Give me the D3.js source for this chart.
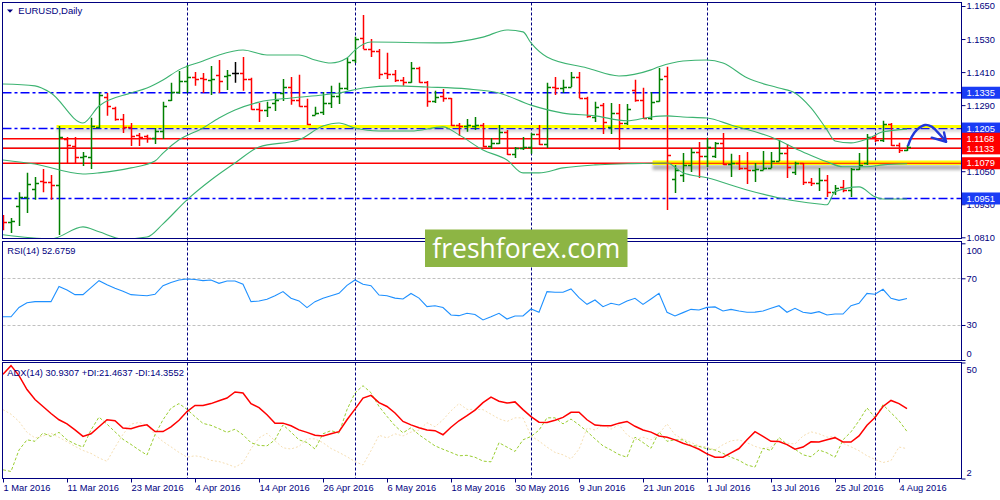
<!DOCTYPE html>
<html>
<head>
<meta charset="utf-8">
<script src="https://cdn.jsdelivr.net/npm/d3@7/dist/d3.min.js"></script>
<style>
  html, body { margin: 0; padding: 0; background: #fff; overflow: hidden; }
  svg { display: block; }
</style>
</head>
<body>
<svg id="chart" width="1000" height="500"></svg>
<script>
// EURUSD daily, 1 Mar 2016 .. 5 Aug 2016 (one entry per trading day)
const opens = [
  1.0876, 1.0865, 1.0924, 1.0956, 1.0985, 1.1015, 1.1011, 1.1000, 1.1167, 1.1142,
  1.1102, 1.1102, 1.1211, 1.1320, 1.1280, 1.1240, 1.1211, 1.1182, 1.1178, 1.1171,
  1.1196, 1.1309, 1.1338, 1.1378, 1.1392, 1.1389, 1.1382, 1.1400, 1.1396, 1.1407,
  1.1407, 1.1385, 1.1276, 1.1273, 1.1298, 1.1334, 1.1356, 1.1309, 1.1287, 1.1254,
  1.1265, 1.1298, 1.1324, 1.1353, 1.1454, 1.1534, 1.1494, 1.1487, 1.1407, 1.1403,
  1.1382, 1.1374, 1.1425, 1.1374, 1.1305, 1.1324, 1.1316, 1.1218, 1.1214, 1.1214,
  1.1218, 1.1142, 1.1153, 1.1193, 1.1113, 1.1134, 1.1138, 1.1185, 1.1149, 1.1356,
  1.1353, 1.1356, 1.1392, 1.1316, 1.1247, 1.1291, 1.1211, 1.1262, 1.1225, 1.1345,
  1.1309, 1.1244, 1.1305, 1.1396, 1.1022, 1.1036, 1.1073, 1.1120, 1.1105, 1.1105,
  1.1153, 1.1076, 1.1080, 1.1062, 1.1054, 1.1054, 1.1062, 1.1087, 1.1116, 1.1047,
  1.1080, 1.1011, 1.1007, 1.1018, 1.0974, 1.0993, 1.0982, 1.1058, 1.1080, 1.1174,
  1.1163, 1.1222, 1.1145, 1.1127
];
const highs = [
  1.0891, 1.0880, 1.0974, 1.1044, 1.1029, 1.1058, 1.1036, 1.1214, 1.1174, 1.1174,
  1.1120, 1.1244, 1.1338, 1.1334, 1.1284, 1.1258, 1.1225, 1.1189, 1.1182, 1.1207,
  1.1302, 1.1371, 1.1414, 1.1436, 1.1410, 1.1407, 1.1432, 1.1454, 1.1418, 1.1447,
  1.1465, 1.1389, 1.1298, 1.1302, 1.1334, 1.1385, 1.1392, 1.1400, 1.1313, 1.1284,
  1.1338, 1.1360, 1.1371, 1.1461, 1.1538, 1.1617, 1.1530, 1.1494, 1.1480, 1.1418,
  1.1392, 1.1447, 1.1429, 1.1378, 1.1342, 1.1349, 1.1316, 1.1225, 1.1240, 1.1247,
  1.1225, 1.1171, 1.1218, 1.1200, 1.1138, 1.1174, 1.1189, 1.1218, 1.1371, 1.1392,
  1.1382, 1.1410, 1.1410, 1.1320, 1.1302, 1.1298, 1.1298, 1.1294, 1.1294, 1.1382,
  1.1353, 1.1338, 1.1425, 1.1429, 1.1073, 1.1116, 1.1134, 1.1156, 1.1171, 1.1156,
  1.1189, 1.1113, 1.1109, 1.1120, 1.1080, 1.1123, 1.1120, 1.1163, 1.1149, 1.1084,
  1.1080, 1.1025, 1.1062, 1.1036, 1.1000, 1.1018, 1.1062, 1.1116, 1.1185, 1.1182,
  1.1233, 1.1225, 1.1153, 1.1145
];
const lows = [
  1.0836, 1.0826, 1.0851, 1.0898, 1.0946, 1.0974, 1.0946, 1.0818, 1.1080, 1.1080,
  1.1069, 1.1058, 1.1207, 1.1251, 1.1233, 1.1189, 1.1142, 1.1142, 1.1153, 1.1149,
  1.1167, 1.1305, 1.1331, 1.1334, 1.1360, 1.1334, 1.1327, 1.1334, 1.1345, 1.1371,
  1.1342, 1.1273, 1.1229, 1.1247, 1.1269, 1.1305, 1.1291, 1.1284, 1.1218, 1.1254,
  1.1254, 1.1280, 1.1294, 1.1345, 1.1443, 1.1494, 1.1465, 1.1385, 1.1385, 1.1374,
  1.1360, 1.1371, 1.1371, 1.1284, 1.1298, 1.1302, 1.1214, 1.1178, 1.1193, 1.1200,
  1.1138, 1.1131, 1.1149, 1.1109, 1.1098, 1.1127, 1.1113, 1.1145, 1.1134, 1.1327,
  1.1334, 1.1356, 1.1316, 1.1244, 1.1229, 1.1185, 1.1185, 1.1127, 1.1218, 1.1302,
  1.1240, 1.1236, 1.1302, 1.0909, 1.0971, 1.1011, 1.1047, 1.1025, 1.1065, 1.1098,
  1.1073, 1.1029, 1.1054, 1.1004, 1.1011, 1.1054, 1.1062, 1.1087, 1.1025, 1.1036,
  1.1000, 1.0996, 1.0978, 1.0956, 1.0964, 1.0974, 1.0956, 1.1054, 1.1073, 1.1156,
  1.1156, 1.1142, 1.1116, 1.1123
];
const closes = [
  1.0865, 1.0869, 1.0956, 1.1004, 1.1007, 1.1011, 1.1000, 1.1174, 1.1145, 1.1102,
  1.1105, 1.1214, 1.1327, 1.1287, 1.1240, 1.1211, 1.1178, 1.1174, 1.1171, 1.1196,
  1.1287, 1.1338, 1.1378, 1.1392, 1.1385, 1.1385, 1.1385, 1.1378, 1.1400, 1.1407,
  1.1385, 1.1276, 1.1273, 1.1284, 1.1309, 1.1356, 1.1309, 1.1287, 1.1222, 1.1262,
  1.1298, 1.1324, 1.1353, 1.1447, 1.1530, 1.1494, 1.1487, 1.1403, 1.1403, 1.1382,
  1.1374, 1.1425, 1.1374, 1.1305, 1.1320, 1.1316, 1.1218, 1.1214, 1.1218, 1.1218,
  1.1142, 1.1153, 1.1193, 1.1113, 1.1134, 1.1138, 1.1185, 1.1149, 1.1356, 1.1353,
  1.1356, 1.1392, 1.1316, 1.1251, 1.1284, 1.1229, 1.1262, 1.1225, 1.1276, 1.1309,
  1.1244, 1.1302, 1.1385, 1.1109, 1.1054, 1.1073, 1.1120, 1.1105, 1.1138, 1.1153,
  1.1076, 1.1080, 1.1062, 1.1054, 1.1058, 1.1062, 1.1087, 1.1116, 1.1065, 1.1080,
  1.1011, 1.1007, 1.1018, 1.0974, 1.0989, 1.0982, 1.1058, 1.1073, 1.1174, 1.1163,
  1.1222, 1.1145, 1.1127, 1.1139
];

// Bollinger bands, read at [bar, price]
const bbUpper = [
  [0,1.1367],[4,1.1360],[6,1.1334],[10,1.1225],[12,1.1287],[16,1.1334],[18,1.1352],
  [20,1.1381],[22,1.1418],[25,1.1450],[27,1.1472],[30,1.1490],[33,1.1472],[37,1.1472],
  [39,1.1454],[41,1.1443],[43,1.1461],[44,1.1490],[46,1.1519],[55,1.1516],[60,1.1537],
  [63,1.1563],[65,1.1556],[66,1.1516],[68,1.1465],[73,1.1425],[77,1.1396],[81,1.1418],
  [82,1.1429],[85,1.1450],[88,1.1454],[90,1.1443],[93,1.1389],[97,1.1352],[99,1.1334],
  [101,1.1280],[103,1.1200],[104,1.1160],[106,1.1153],[108,1.1167],[110,1.1193],[113,1.1203]
];
const bbMiddle = [
  [0,1.1091],[4,1.1076],[10,1.1040],[12,1.1044],[16,1.1062],[19,1.1087],[20,1.1116],
  [22,1.1164],[25,1.1207],[27,1.1243],[29,1.1272],[32,1.1301],[36,1.1316],[40,1.1327],
  [42,1.1334],[45,1.1352],[49,1.1360],[53,1.1356],[58,1.1349],[62,1.1334],[66,1.1290],
  [70,1.1261],[74,1.1251],[78,1.1233],[81,1.1247],[83,1.1251],[85,1.1247],[88,1.1243],
  [91,1.1218],[96,1.1174],[100,1.1120],[103,1.1084],[105,1.1066],[108,1.1066],[110,1.1073],[113,1.1077]
];
const bbLower = [
  [0,1.0819],[6,1.0804],[10,1.0848],[12,1.0830],[15,1.0804],[18,1.0811],[20,1.0859],
  [23,1.0946],[26,1.1018],[29,1.1080],[32,1.1138],[37,1.1164],[40,1.1214],[42,1.1225],
  [44,1.1207],[47,1.1196],[51,1.1196],[55,1.1211],[57,1.1182],[60,1.1127],[63,1.1091],
  [65,1.1044],[67,1.1044],[70,1.1062],[74,1.1073],[78,1.1077],[83,1.1080],[85,1.1044],
  [88,1.1026],[93,1.0982],[97,1.0953],[102,1.0931],[103,1.0928],[104,1.0975],[107,1.0993],
  [109,1.0957],[110,1.0949],[113,1.0949]
];

const rsiValues = [
  37, 37, 45, 49, 50, 50, 50, 63, 60, 56,
  56, 62, 68, 64.5, 61.5, 59, 56, 55.5, 55, 56.3,
  63.7, 66.5, 68.5, 69.4, 69, 68, 68.6, 65.7, 67.7, 67.7,
  64.9, 50, 50.5, 52, 55, 58.6, 53, 50.6, 44.9, 50,
  52.9, 55, 57.1, 64, 68.6, 64.9, 63.7, 55.7, 55, 53,
  52.3, 57, 53, 45.7, 46.5, 45, 38.6, 38, 40, 39,
  34.3, 37, 40, 35.1, 37.7, 37.7, 43.7, 40.9, 58.6, 58,
  58, 60.9, 53.4, 47.7, 51.4, 45.7, 48.6, 47.1, 50.6, 52.9,
  47.7, 52.3, 57.1, 40.9, 37.7, 40.6, 43.4, 42.9, 45.1, 45.5,
  42, 43.4, 42, 40.9, 41, 42, 44.3, 46.5, 40.9, 44.3,
  40.9, 40, 41.4, 38.6, 39.4, 39.4, 46.5, 48.6, 57.1, 56.3,
  60.6, 52.9, 51.1, 52.68
];
const adxValues = [
  45.1, 48.7, 44.6, 38.8, 34.7, 31.8, 28.9, 26.3, 24.6, 22.1,
  19.4, 20.5, 23.4, 26.3, 25.9, 22.9, 22.6, 23.6, 24.2, 21.4,
  21.4, 23.4, 26.1, 29.7, 32.2, 32.2, 33, 34.2, 35.3, 37.8,
  37.4, 33, 31.3, 28.4, 24.9, 24.9, 23.8, 22.1, 21.1, 19.9,
  19.6, 20.5, 21.4, 26.3, 30.7, 35.3, 36.4, 33.4, 31.8, 29.1,
  25.6, 24.2, 23, 22.1, 21.8, 20.1, 23.2, 25.9, 28, 30.3,
  33.4, 35.7, 34, 33.2, 33.7, 30.5, 27.6, 25.3, 25.2, 26.1,
  27.3, 29.4, 29.4, 26.3, 24.1, 23.8, 23.8, 24.9, 25.6, 23.6,
  22.1, 21.2, 19.6, 19.1, 18, 16.6, 15.5, 14.1, 12.2, 10.8,
  10.8, 12.6, 14.4, 18, 21.4, 19.4, 17.4, 17.3, 16, 14.1,
  15, 17.2, 17.1, 18, 18.9, 17.1, 17.1, 19.6, 24, 27.2,
  31.8, 34.3, 33, 30.93
];
const plusDI = [
  5.6, 4.9, 13.8, 18, 17.4, 20.8, 19.4, 21.1, 18, 16.3,
  15, 22.1, 27.4, 24.5, 21.3, 18.2, 16.1, 13.8, 11.7, 20.1,
  26.3, 31.1, 33, 30.6, 27.6, 24.8, 24, 22.6, 21.1, 22.4,
  20.1, 16.8, 15.7, 15.5, 18, 24.2, 21.2, 18, 16.9, 14.2,
  20.5, 21.8, 20.8, 30.5, 37.4, 40.4, 37.5, 31.8, 27.7, 23.8,
  20.9, 23, 20.1, 17.8, 15.5, 14.1, 12.8, 11.4, 11.6, 10.8,
  9.2, 8.9, 16.8, 15, 13.2, 18, 19.4, 22, 27.1, 27.1,
  24.6, 26.6, 24.2, 21.5, 18.4, 15.5, 13.8, 11.9, 10.8, 19.1,
  16.9, 14.5, 21.3, 17.4, 18, 18, 15.7, 15.3, 14.3, 13.8,
  12.4, 10.8, 9.5, 7.6, 6.7, 14.5, 13.6, 19, 16.1, 14.1,
  11.8, 11, 13.8, 12.6, 10.8, 18, 21.3, 25.9, 31.2, 27.2,
  32.5, 29.2, 25.9, 21.46
];
const minusDI = [
  30.5, 28.6, 25.6, 21.1, 18.8, 19.6, 20.7, 19, 17.2, 15.3,
  13.6, 12.4, 10.5, 9.1, 14.9, 20.3, 24.5, 25.2, 24, 20.1,
  17.3, 15.1, 12.8, 10.8, 11.4, 10.8, 9.5, 9, 8, 6.7,
  8.5, 14.3, 18.8, 20.7, 17.6, 14.7, 14.2, 15.3, 18.4, 18.4,
  16.8, 14.4, 12.8, 11, 9, 7.6, 13.5, 19.9, 18.8, 20.5,
  19.6, 21.2, 22, 25.1, 23.4, 26.3, 30, 33, 30.6, 30.6,
  30.5, 28.6, 26.7, 25.6, 27.1, 27.1, 19.6, 17.5, 15, 12.8,
  11.8, 10.1, 14.1, 22.8, 22.1, 24.2, 22.4, 24.2, 20.1, 18,
  19.1, 18, 20.5, 24.6, 20.1, 18.3, 16.9, 15.5, 15, 13.8,
  16, 17.6, 18, 16.8, 15.3, 14.2, 15, 17.8, 16.6, 16.3,
  19.6, 21.3, 20.5, 19.1, 19.4, 16.6, 15.1, 13.5, 11.4, 9.9,
  8.6, 9.4, 15, 14.36
];

const dateLabels = ["1 Mar 2016", "11 Mar 2016", "23 Mar 2016", "4 Apr 2016", "14 Apr 2016",
  "26 Apr 2016", "6 May 2016", "18 May 2016", "30 May 2016", "9 Jun 2016", "21 Jun 2016",
  "1 Jul 2016", "13 Jul 2016", "25 Jul 2016", "4 Aug 2016"];
const dateTickBars = [0, 8, 16, 24, 32, 40, 48, 56, 64, 72, 80, 88, 96, 104, 112];
const monthStartBars = [23, 44, 66, 88, 109];
const priceTicks = [1.1650, 1.1530, 1.1410, 1.1290, 1.1050, 1.0930, 1.0810];
const rsiTicks = [100, 70, 30, 0];
const rsiLevels = [70, 30];
const adxTicks = [50, 2];
const blueLevels = [1.1335, 1.1205, 1.0951];
const redLevels = [1.1168, 1.1133, 1.1079];
const zoneStarts = [6.7, 81.2];
const zonePrices = [1.1212, 1.1081];
const arrowPath = [[113.16,1.1145],[113.59,1.1175],[114.29,1.1202],[115.25,1.1218],
  [116.09,1.1212],[116.79,1.1193],[117.54,1.1169],[117.88,1.1157]];
const arrowHead = [[116.09,1.1172],[117.88,1.1157],[117.63,1.1191]];

// ---- layout
const navy = "#000080";
const font = "'Liberation Sans', Arial, sans-serif";
const left = 2.5, right = 961.5;
const mainTop = 2.5, mainBottom = 238.5;
const rsiTop = 241.5, rsiBottom = 360.5;
const adxTop = 362.5, adxBottom = 478.5;

const x = d3.scaleLinear().domain([0, 113]).range([3, 907]);
const yPrice = d3.scaleLinear().domain([1.0810, 1.1650]).range([237.3, 6]);
const yRsi = d3.scaleLinear().domain([0, 100]).range([360, 243.3]);
const yAdx = d3.scaleLinear().domain([2, 50]).range([478.5, 362.5]);

const svg = d3.select("#chart");
const defs = svg.append("defs");
[["clipMain", mainTop, mainBottom], ["clipRsi", rsiTop, rsiBottom], ["clipAdx", adxTop, adxBottom]]
  .forEach(([id, t, b]) => defs.append("clipPath").attr("id", id)
    .append("rect").attr("x", left).attr("y", t).attr("width", right - left).attr("height", b - t));
defs.append("filter").attr("id", "soft").attr("x", "-5%").attr("y", "-200%").attr("width", "110%").attr("height", "500%")
  .append("feGaussianBlur").attr("stdDeviation", 1.4);

const crisp = v => Math.round(v) + 0.5;

// month separators through all panels
svg.append("g")
  .selectAll("line")
  .data(monthStartBars)
  .join("line")
  .attr("x1", d => crisp(x(d))).attr("x2", d => crisp(x(d)))
  .attr("y1", mainTop).attr("y2", adxBottom)
  .attr("stroke", navy).attr("stroke-width", 1)
  .attr("stroke-dasharray", "3,2");

// ---- main panel
const main = svg.append("g").attr("clip-path", "url(#clipMain)");

// bid line
main.append("line")
  .attr("x1", left).attr("x2", right)
  .attr("y1", crisp(yPrice(closes[closes.length - 1]))).attr("y2", crisp(yPrice(closes[closes.length - 1])))
  .attr("stroke", "#c8c8c8");

main.append("g")
  .selectAll("line")
  .data(blueLevels)
  .join("line")
  .attr("x1", left).attr("x2", right)
  .attr("y1", d => yPrice(d)).attr("y2", d => yPrice(d))
  .attr("stroke", "#0000ff").attr("stroke-width", 1.5)
  .attr("stroke-dasharray", "9,3,3,3");

main.append("g")
  .selectAll("line")
  .data(redLevels)
  .join("line")
  .attr("x1", left).attr("x2", right)
  .attr("y1", d => yPrice(d)).attr("y2", d => yPrice(d))
  .attr("stroke", "#ff0000").attr("stroke-width", 1.5);

// yellow zones with a soft shadow underneath
const zones = zonePrices.map((p, i) => ({ p, from: zoneStarts[i], w: i === 0 ? 3 : 4.5 }));
main.append("g")
  .selectAll("rect")
  .data(zones)
  .join("rect")
  .attr("x", d => x(d.from)).attr("width", d => right - x(d.from))
  .attr("y", d => yPrice(d.p) + d.w / 2).attr("height", d => d.w > 3 ? 5 : 3.5)
  .attr("fill", "#808080").attr("opacity", d => d.w > 3 ? 0.6 : 0.35)
  .attr("filter", "url(#soft)");
main.append("g")
  .selectAll("line")
  .data(zones)
  .join("line")
  .attr("x1", d => x(d.from)).attr("x2", right)
  .attr("y1", d => yPrice(d.p)).attr("y2", d => yPrice(d.p))
  .attr("stroke", "#ffff00").attr("stroke-width", d => d.w);
// red level drawn again through the lower zone
main.append("line")
  .attr("x1", x(zoneStarts[1])).attr("x2", right)
  .attr("y1", yPrice(redLevels[2])).attr("y2", yPrice(redLevels[2]))
  .attr("stroke", "#ff0000").attr("stroke-width", 1.2);

// OHLC bars
const barColor = i => closes[i] > opens[i] ? "#008000" : closes[i] < opens[i] ? "#ff0000" : "#000000";
main.append("g")
  .selectAll("path")
  .data(d3.range(opens.length))
  .join("path")
  .attr("d", i => {
    const cx = crisp(x(i));
    const yo = crisp(yPrice(opens[i])), yc = crisp(yPrice(closes[i]));
    return `M${cx},${yPrice(highs[i])}V${yPrice(lows[i])}M${cx - 3.5},${yo}H${cx}M${cx},${yc}H${cx + 3.5}`;
  })
  .attr("fill", "none")
  .attr("stroke", barColor)
  .attr("stroke-width", 1.5);

// Bollinger bands
const bandLine = d3.line().x(d => x(d[0])).y(d => yPrice(d[1])).curve(d3.curveMonotoneX);
main.append("g")
  .selectAll("path")
  .data([bbUpper, bbMiddle, bbLower])
  .join("path")
  .attr("d", bandLine)
  .attr("fill", "none")
  .attr("stroke", "#3cb371")
  .attr("stroke-width", 1.1);

// ---- RSI panel
const rsiG = svg.append("g").attr("clip-path", "url(#clipRsi)");
rsiG.append("g")
  .selectAll("line")
  .data(rsiLevels)
  .join("line")
  .attr("x1", left).attr("x2", right)
  .attr("y1", d => crisp(yRsi(d))).attr("y2", d => crisp(yRsi(d)))
  .attr("stroke", "#c0c0c0").attr("stroke-dasharray", "3,2");
rsiG.append("path")
  .datum(rsiValues)
  .attr("d", d3.line().x((d, i) => x(i)).y(d => yRsi(d)))
  .attr("fill", "none")
  .attr("stroke", "#1e90ff")
  .attr("stroke-width", 1.1);

// ---- ADX panel
const adxG = svg.append("g").attr("clip-path", "url(#clipAdx)");
const adxLine = d3.line().x((d, i) => x(i)).y(d => yAdx(d));
adxG.append("path").datum(minusDI).attr("d", adxLine)
  .attr("fill", "none").attr("stroke", "#f5deb3").attr("stroke-width", 1).attr("stroke-dasharray", "2,2");
adxG.append("path").datum(plusDI).attr("d", adxLine)
  .attr("fill", "none").attr("stroke", "#9acd32").attr("stroke-width", 1).attr("stroke-dasharray", "3,2");
adxG.append("path").datum(adxValues).attr("d", adxLine)
  .attr("fill", "none").attr("stroke", "#ff0000").attr("stroke-width", 1.5);

// ---- frames
svg.append("g")
  .selectAll("rect")
  .data([[mainTop, mainBottom], [rsiTop, rsiBottom], [adxTop, adxBottom]])
  .join("rect")
  .attr("x", left).attr("y", d => d[0])
  .attr("width", right - left).attr("height", d => d[1] - d[0])
  .attr("fill", "none").attr("stroke", navy).attr("stroke-width", 1);

// ---- axes
const styleAxis = g => {
  g.select(".domain").remove();
  g.attr("font-family", font).attr("font-size", 9.3);
  g.selectAll(".tick line").attr("stroke", navy);
  g.selectAll(".tick text").attr("fill", navy);
};

svg.append("g")
  .attr("transform", `translate(${right},0)`)
  .call(d3.axisRight(yPrice).tickValues(priceTicks).tickFormat(d3.format(".4f")).tickSize(4).tickPadding(1))
  .call(styleAxis);

svg.append("g")
  .attr("transform", `translate(${right},0)`)
  .call(d3.axisRight(yRsi).tickValues(rsiTicks).tickFormat(d3.format("d")).tickSize(4).tickPadding(1))
  .call(styleAxis)
  .call(g => g.selectAll(".tick text").attr("dy", d => d === 100 ? "1.05em" : d === 0 ? "-0.4em" : "0.32em"));

svg.append("g")
  .attr("transform", `translate(${right},0)`)
  .call(d3.axisRight(yAdx).tickValues(adxTicks).tickFormat(d3.format("d")).tickSize(4).tickPadding(1))
  .call(styleAxis)
  .call(g => g.selectAll(".tick text").attr("dy", d => d === 50 ? "1.05em" : "-0.3em"));

svg.append("g")
  .attr("transform", `translate(0,${adxBottom})`)
  .call(d3.axisBottom(x).tickValues(dateTickBars).tickFormat((d, i) => dateLabels[i]).tickSize(4).tickPadding(2))
  .call(styleAxis)
  .call(g => g.selectAll(".tick text").attr("text-anchor", "start").attr("x", 0));

// ---- level price boxes
const levelBoxes = blueLevels.map(p => ({ p, c: "#1a3cf5" }))
  .concat(redLevels.map(p => ({ p, c: "#ff0000" })));
const boxG = svg.append("g")
  .selectAll("g")
  .data(levelBoxes)
  .join("g")
  .attr("transform", d => `translate(${right + 0.5},${yPrice(d.p)})`);
boxG.append("rect")
  .attr("x", 0).attr("y", -6).attr("width", 38).attr("height", 12)
  .attr("fill", d => d.c);
boxG.append("text")
  .attr("x", 4.5).attr("dy", "0.35em")
  .attr("font-family", font).attr("font-size", 9.3)
  .attr("fill", "#ffffff")
  .text(d => d3.format(".4f")(d.p));

// ---- titles
svg.append("path").attr("d", "M7,9.5H13L10,12.8Z").attr("fill", navy);
const labels = [
  { t: "EURUSD,Daily", x: 18.3, y: 14.3, s: 9.5 },
  { t: "RSI(14) 52.6759", x: 7.3, y: 254.3, s: 9.3 },
  { t: "ADX(14) 30.9307 +DI:21.4637 -DI:14.3552", x: 7.3, y: 375.5, s: 9.3 }
];
svg.append("g")
  .selectAll("text")
  .data(labels)
  .join("text")
  .attr("x", d => d.x).attr("y", d => d.y)
  .attr("font-family", font).attr("font-size", d => d.s)
  .attr("fill", navy)
  .text(d => d.t);

// ---- forecast arrow
const arrowLine = d3.line().x(d => x(d[0])).y(d => yPrice(d[1]));
svg.append("path")
  .datum(arrowPath)
  .attr("d", arrowLine.curve(d3.curveCatmullRom))
  .attr("fill", "none").attr("stroke", "#2238d8").attr("stroke-width", 2.4).attr("stroke-linecap", "round");
svg.append("path")
  .datum(arrowHead)
  .attr("d", d3.line().x(d => x(d[0])).y(d => yPrice(d[1])))
  .attr("fill", "none").attr("stroke", "#2238d8").attr("stroke-width", 2.4)
  .attr("stroke-linecap", "round").attr("stroke-linejoin", "round");

// ---- watermark
svg.append("rect")
  .attr("x", 425).attr("y", 229.5).attr("width", 202.5).attr("height", 37.5)
  .attr("fill", "#8db544");
svg.append("text")
  .attr("x", 526.3).attr("y", 258)
  .attr("text-anchor", "middle")
  .attr("font-family", "'Open Sans', sans-serif").attr("font-size", 26.5)
  .attr("fill", "#ffffff")
  .text("freshforex.com");
</script>
</body>
</html>
